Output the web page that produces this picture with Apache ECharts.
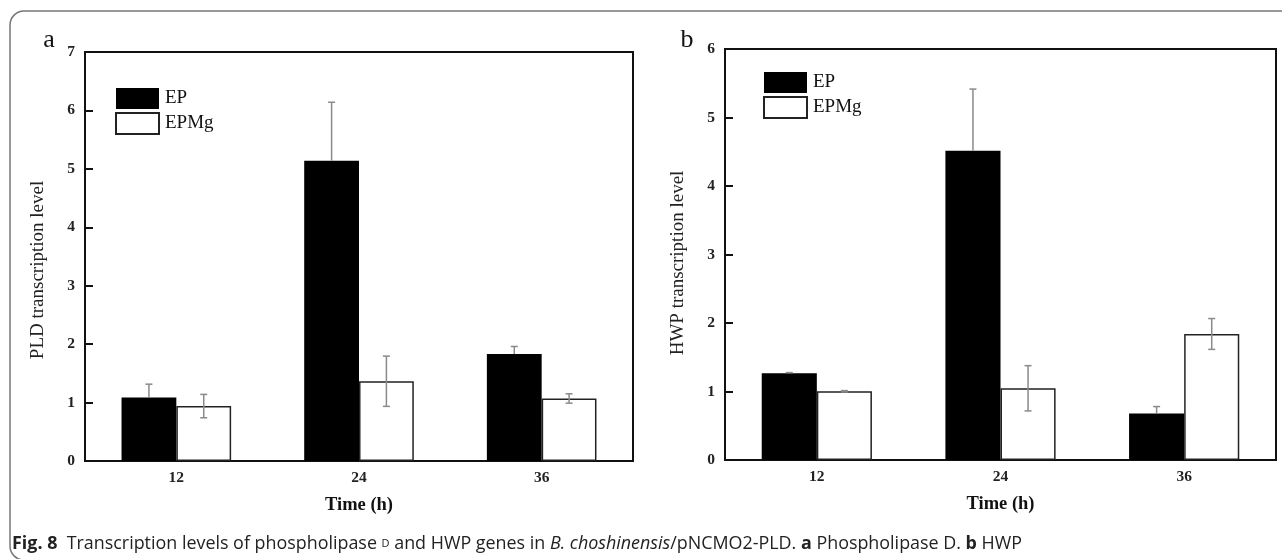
<!DOCTYPE html>
<html>
<head>
<meta charset="utf-8">
<script src="https://cdn.jsdelivr.net/npm/echarts@6/dist/echarts.min.js"></script>
<style>
html,body{margin:0;padding:0;background:#fff;}
#main{width:1282px;height:559px;}
</style>
</head>
<body>
<div id="main"></div>
<script>
// ---- data ----
const categories = ['12', '24', '36'];
const seriesNames = ['EP', 'EPMg'];
// Panel a: PLD transcription level
const pldEP = [1.085, 5.14, 1.83];
const pldEPErr = [0.23, 1.0, 0.13];
const pldEPMg = [0.94, 1.365, 1.07];
const pldEPMgErr = [0.2, 0.43, 0.08];
// Panel b: HWP transcription level
const hwpEP = [1.266, 4.515, 0.68];
const hwpEPErr = [0.01, 0.9, 0.1];
const hwpEPMg = [1.003, 1.047, 1.84];
const hwpEPMgErr = [0.01, 0.33, 0.225];
const yMaxA = 7;
const yMaxB = 6;
const yTitleA = 'PLD transcription level';
const yTitleB = 'HWP transcription level';
const xTitle = 'Time (h)';

const SERIF = '"Liberation Serif","Times New Roman",serif';
const SANS = '"Open Sans","Noto Sans",sans-serif';

function errData(vals, errs) {
  return vals.map((v, i) => [i, v, errs[i]]);
}
function errRender(sign, upOnly) {
  return function (params, api) {
    const xi = api.value(0), v = api.value(1), e = api.value(2);
    const band = api.size([1, 0])[0];
    const cx = api.coord([xi, v])[0] + sign * band * 0.15;
    const yTop = api.coord([xi, v + e])[1];
    const yBot = api.coord([xi, upOnly ? v : v - e])[1];
    const h = 3.5;
    const st = { stroke: '#8a8a8a', lineWidth: 1.5 };
    const children = [
      { type: 'line', shape: { x1: cx, y1: yTop, x2: cx, y2: yBot }, style: st },
      { type: 'line', shape: { x1: cx - h, y1: yTop, x2: cx + h, y2: yTop }, style: st }
    ];
    if (!upOnly) children.push({ type: 'line', shape: { x1: cx - h, y1: yBot, x2: cx + h, y2: yBot }, style: st });
    return { type: 'group', children: children };
  };
}

function makeX(idx) {
  return {
    type: 'category', gridIndex: idx, data: categories,
    name: xTitle, nameLocation: 'middle', nameGap: 35,
    nameTextStyle: { fontFamily: SERIF, fontSize: 18.5, fontWeight: 'bold', color: '#111' },
    axisLine: { lineStyle: { color: '#111', width: 2 } },
    axisTick: { show: false },
    axisLabel: { fontFamily: SERIF, fontSize: 15.5, fontWeight: 'bold', color: '#222', margin: 9 },
    splitLine: { show: false }
  };
}
function makeY(idx, max) {
  return {
    type: 'value', gridIndex: idx, min: 0, max: max, interval: 1,
    axisLine: { show: true, lineStyle: { color: '#111', width: 2 } },
    axisTick: { show: true, inside: true, length: 8, lineStyle: { color: '#111', width: 2 } },
    axisLabel: { fontFamily: SERIF, fontSize: 15.5, fontWeight: 'bold', color: '#222', margin: 10 },
    splitLine: { show: false }
  };
}
function barSeries(name, idx, data, isEP) {
  return {
    name: name, type: 'bar', xAxisIndex: idx, yAxisIndex: idx, data: data,
    barWidth: '30%', barGap: '0%',
    itemStyle: isEP ? { color: '#000', borderColor: '#000', borderWidth: 0 }
                    : { color: '#fff', borderColor: '#222', borderWidth: 1.5 },
    emphasis: { disabled: true }, animation: false
  };
}
function errSeries(idx, vals, errs, sign, upOnly) {
  return {
    type: 'custom', xAxisIndex: idx, yAxisIndex: idx, z: 5,
    data: errData(vals, errs), renderItem: errRender(sign, upOnly),
    encode: { x: 0, y: [1] }, animation: false, silent: true
  };
}
function legend(left, top) {
  return {
    data: seriesNames, left: left, top: top, orient: 'vertical', padding: 0,
    itemWidth: 43, itemHeight: 21, itemGap: 3, icon: 'rect',
    textStyle: { fontFamily: SERIF, fontSize: 19, color: '#111', padding: [0, 0, 0, 1] },
    selectedMode: false
  };
}

const chart = echarts.init(document.getElementById('main'), null, { renderer: 'canvas' });
chart.setOption({
  backgroundColor: '#fff',
  animation: false,
  grid: [
    { left: 85, top: 52, width: 548, height: 409, show: true, borderColor: '#111', borderWidth: 2, backgroundColor: 'transparent' },
    { left: 725, top: 49, width: 551, height: 411, show: true, borderColor: '#111', borderWidth: 2, backgroundColor: 'transparent' }
  ],
  legend: [legend(115, 88), legend(763, 72)],
  xAxis: [makeX(0), makeX(1)],
  yAxis: [makeY(0, yMaxA), makeY(1, yMaxB)],
  series: [
    barSeries('EP', 0, pldEP, true),
    barSeries('EPMg', 0, pldEPMg, false),
    barSeries('EP', 1, hwpEP, true),
    barSeries('EPMg', 1, hwpEPMg, false),
    errSeries(0, pldEP, pldEPErr, -1, true),
    errSeries(0, pldEPMg, pldEPMgErr, 1, false),
    errSeries(1, hwpEP, hwpEPErr, -1, true),
    errSeries(1, hwpEPMg, hwpEPMgErr, 1, false)
  ],
  graphic: [
    { type: 'rect', shape: { x: 10, y: 11, width: 1340, height: 549, r: 14 },
      style: { fill: 'none', stroke: '#777', lineWidth: 1.5 }, silent: true, z: -1 },
    { type: 'text', x: 38, y: 270, rotation: Math.PI / 2,
      style: { text: yTitleA, font: '19px ' + SERIF, fill: '#222', align: 'center', verticalAlign: 'middle' } },
    { type: 'text', x: 678, y: 263, rotation: Math.PI / 2,
      style: { text: yTitleB, font: '19px ' + SERIF, fill: '#222', align: 'center', verticalAlign: 'middle' } },
    { type: 'text', x: 49, y: 40, style: { text: 'a', font: '26px ' + SERIF, fill: '#111', align: 'center', verticalAlign: 'middle' } },
    { type: 'text', x: 687, y: 40, style: { text: 'b', font: '26px ' + SERIF, fill: '#111', align: 'center', verticalAlign: 'middle' } },
    { type: 'text', x: 12, y: 544,
      style: {
        text: '{b|Fig. 8}  Transcription levels of phospholipase {sc|D} and HWP genes in {i|B. choshinensis}/pNCMO2-PLD. {b|a} Phospholipase D. {b|b} HWP',
        font: '17.9px ' + SANS, fill: '#222', verticalAlign: 'middle',
        rich: {
          b: { fontFamily: SANS, fontSize: 17.9, fontWeight: 'bold', fill: '#222' },
          i: { fontFamily: SANS, fontSize: 17.9, fontStyle: 'italic', fill: '#222' },
          sc: { fontFamily: SANS, fontSize: 11, fill: '#222' }
        }
      } }
  ]
});
</script>
</body>
</html>
